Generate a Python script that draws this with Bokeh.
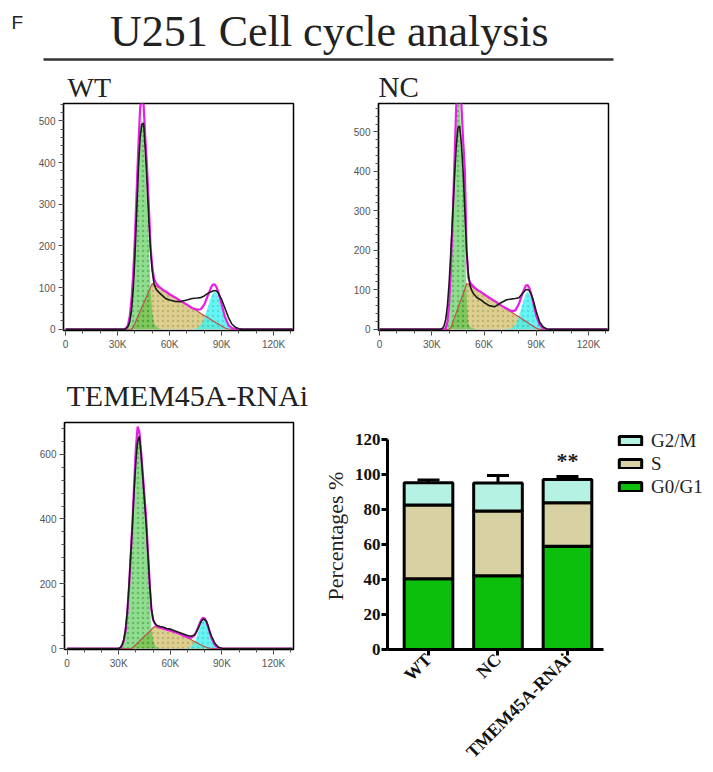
from math import pi
from bokeh.plotting import figure
from bokeh.layouts import column, row
from bokeh.models import (Range1d, FixedTicker, Legend, LegendItem,
                          ColumnDataSource, Whisker, TeeHead)
from bokeh.core.properties import value
from bokeh.embed import file_html
from bokeh.resources import INLINE

SERIF = "Liberation Serif"
SANS = "Liberation Sans"

# ---------------- histogram data (DNA content in K, counts) ----------------
hist_x_k = [0, 34, 35, 36, 37, 38, 39, 40, 41, 42, 43, 44, 45, 46, 47, 48, 49, 50, 51, 52, 53, 54,
            56, 58, 60, 63, 66, 70, 73, 76, 78, 80, 82, 84, 85, 86, 87, 88,
            90, 92, 94, 96, 98, 100, 102, 131]

wt_g1 = [0, 0, 3, 10, 30, 70, 125, 206, 306, 407, 487, 507, 478, 388, 309, 209, 100, 40, 15, 7, 4, 2,
         0, 0, 0, 0, 0, 0, 0, 0, 0, 0, 0, 0, 0, 0, 0, 0,
         0, 0, 0, 0, 0, 0, 0, 0]
wt_s = [0, 0, 0, 0, 0, 0, 5, 14, 24, 33, 43, 53, 62, 72, 81, 91, 100, 110, 107, 105, 102, 100,
        95, 90, 84, 77, 69, 59, 51, 44, 38, 33, 28, 23, 20, 18, 15, 13,
        8, 3, 0, 0, 0, 0, 0, 0]
wt_g2 = [0, 0, 0, 0, 0, 0, 0, 0, 0, 0, 0, 0, 0, 0, 0, 0, 0, 0, 0, 0, 0, 0,
         0, 0, 0, 0, 0, 0, 0, 3, 10, 26, 52, 78, 87, 90, 87, 78,
         52, 26, 10, 3, 1, 0, 0, 0]
wt_fit = [0, 0, 3, 10, 30, 70, 130, 220, 330, 440, 530, 560, 540, 460, 390, 300, 200, 150, 122, 112, 106, 102,
          95, 90, 84, 77, 69, 59, 51, 47, 48, 59, 80, 101, 107, 108, 102, 91,
          60, 29, 10, 3, 1, 0, 0, 0]
wt_data = [0, 0, 2, 6, 18, 45, 95, 175, 280, 385, 460, 492, 495, 430, 350, 265, 190, 140, 110, 98, 92, 88,
           80, 73, 70, 67, 66, 70, 74, 75, 76, 80, 86, 90, 92, 93, 92, 88,
           72, 50, 28, 12, 5, 1, 0, 0]

nc_g1 = [0, 0, 0, 0, 0, 3, 20, 65, 155, 263, 391, 519, 586, 584, 492, 390, 298, 85, 15, 6, 4, 2,
         0, 0, 0, 0, 0, 0, 0, 0, 0, 0, 0, 0, 0, 0, 0, 0,
         0, 0, 0, 0, 0, 0, 0, 0]
nc_s = [0, 0, 0, 0, 0, 0, 0, 0, 5, 17, 29, 41, 54, 66, 78, 90, 102, 115, 115, 112, 109, 106,
        100, 95, 89, 80, 72, 60, 52, 43, 37, 32, 26, 20, 17, 14, 11, 9,
        3, 0, 0, 0, 0, 0, 0, 0]
nc_g2 = [0, 0, 0, 0, 0, 0, 0, 0, 0, 0, 0, 0, 0, 0, 0, 0, 0, 0, 0, 0, 0, 0,
         0, 0, 0, 0, 0, 0, 0, 3, 11, 32, 64, 91, 95, 91, 80, 64,
         32, 11, 3, 0, 0, 0, 0, 0]
nc_fit = [0, 0, 0, 0, 0, 3, 20, 65, 160, 280, 420, 560, 640, 650, 570, 480, 400, 200, 130, 118, 113, 108,
          100, 95, 89, 80, 72, 60, 52, 46, 48, 64, 90, 111, 112, 105, 91, 73,
          35, 11, 3, 0, 0, 0, 0, 0]
nc_data = [0, 0, 0, 2, 8, 25, 60, 120, 200, 290, 380, 460, 510, 515, 470, 400, 300, 200, 140, 110, 98, 90,
           80, 75, 68, 60, 57, 68, 75, 77, 78, 80, 90, 100, 101, 98, 90, 78,
           45, 18, 6, 1, 0, 0, 0, 0]

tm_x_k = [0, 30, 31, 32, 33, 34, 35, 36, 37, 38, 39, 40, 41, 42, 43, 44, 45, 46, 47, 48, 49, 50, 51, 52,
          54, 56, 58, 60, 62, 64, 66, 68, 70, 72, 74,
          75, 76, 77, 78, 79, 80, 81, 82, 83, 84, 86, 88, 90, 92, 94, 131]
tm_g1 = [0, 0, 2, 10, 25, 55, 110, 190, 290, 388, 503, 608, 668, 648, 582, 507, 432, 357, 252, 147, 61, 24, 10, 4,
         0, 0, 0, 0, 0, 0, 0, 0, 0, 0, 0,
         0, 0, 0, 0, 0, 0, 0, 0, 0, 0, 0, 0, 0, 0, 0, 0]
tm_s = [0, 0, 0, 0, 0, 0, 0, 0, 0, 2, 7, 12, 17, 22, 28, 33, 38, 43, 48, 53, 59, 64, 68, 66,
        64, 61, 58, 55, 52, 48, 44, 39, 34, 28, 22,
        19, 16, 13, 11, 8, 6, 4, 2, 1, 0, 0, 0, 0, 0, 0, 0]
tm_g2 = [0, 0, 0, 0, 0, 0, 0, 0, 0, 0, 0, 0, 0, 0, 0, 0, 0, 0, 0, 0, 0, 0, 0, 0,
         0, 0, 0, 0, 0, 0, 0, 0, 1, 5, 18,
         31, 47, 64, 78, 87, 87, 78, 64, 47, 31, 10, 2, 0, 0, 0, 0]
tm_fit = [0, 0, 2, 10, 25, 55, 110, 190, 290, 390, 510, 620, 685, 670, 610, 540, 470, 400, 300, 200, 120, 88, 78, 70,
          64, 61, 58, 55, 52, 48, 44, 39, 35, 33, 40,
          50, 63, 77, 89, 95, 93, 82, 66, 48, 31, 10, 2, 0, 0, 0, 0]
tm_data = [0, 0, 3, 12, 28, 60, 115, 195, 290, 385, 490, 580, 640, 655, 600, 530, 455, 380, 290, 200, 125, 90, 78, 72,
           68, 66, 62, 60, 56, 52, 48, 44, 40, 38, 42,
           50, 60, 72, 84, 90, 90, 84, 70, 52, 38, 15, 4, 1, 0, 0, 0]

hist_x_ticks = [0, 30, 60, 90, 120]
hist_x_labels = ["0", "30K", "60K", "90K", "120K"]

# ---------------- bar chart data (percentages) ----------------
categories = ["WT", "NC", "TMEM45A-RNAi"]
phase_labels = ["G0/G1", "S", "G2/M"]
g0g1_pct = [40.5, 42.2, 59.1]
s_pct = [42.3, 37.1, 24.9]
g2m_pct = [12.7, 16.1, 13.4]
g0g1_err = [1.7, 1.8, 1.8]
s_err = [2.7, 3.8, 3.5]
g2m_err = [1.5, 4.2, 1.7]
sig_mark = "**"
bar_y_ticks = [0, 20, 40, 60, 80, 100, 120]

# ---------------- styles ----------------
C_G1 = "#33c233"
C_S = "#dccf90"
C_G2 = "#3ff3f3"
C_FIT = "#e81ee8"
C_DATA = "#1a1a1a"
BAR_COLORS = ["#0cbf0c", "#d8d1a3", "#b5f2e4"]


def hist_panel(name, xk, g1, s, g2, fit, data, x_lo, x_hi, y_hi, y_major, y_minor,
               left, top, fw, fh, width, height, tsize, toffset, tstandoff):
    p = figure(width=width, height=height, title=name,
               x_range=Range1d(x_lo, x_hi), y_range=Range1d(-3, y_hi),
               min_border_left=left, min_border_right=width - left - fw,
               min_border_top=top, min_border_bottom=height - top - fh,
               output_backend="svg", toolbar_location=None)
    p.grid.visible = False
    p.outline_line_color = "black"
    p.outline_line_width = 1.5
    p.background_fill_color = "white"
    p.title.text_font = SERIF
    p.title.text_font_size = tsize
    p.title.text_font_style = "normal"
    p.title.text_color = "#222222"
    p.title.align = "left"
    p.title.offset = toffset
    p.title.standoff = tstandoff

    p.varea(x=xk, y1=0, y2=s, fill_color=C_S, fill_alpha=1.0,
            hatch_pattern="dot", hatch_color="#9c8c44", hatch_alpha=0.45, hatch_scale=5)
    p.varea(x=xk, y1=0, y2=g1, fill_color=C_G1, fill_alpha=0.55,
            hatch_pattern="dot", hatch_color="#1d6e1d", hatch_alpha=0.35, hatch_scale=5)
    p.varea(x=xk, y1=0, y2=g2, fill_color=C_G2, fill_alpha=0.8,
            hatch_pattern="dot", hatch_color="#2a9a9a", hatch_alpha=0.3, hatch_scale=5)
    p.line(xk, s, line_color="#c0504d", line_width=1.2)
    p.line(xk, fit, line_color=C_FIT, line_width=2.2)
    p.line(xk, data, line_color=C_DATA, line_width=1.6)

    p.xaxis.ticker = FixedTicker(ticks=hist_x_ticks, minor_ticks=list(range(0, 140, 10)))
    p.xaxis.major_label_overrides = dict(zip(hist_x_ticks, hist_x_labels))
    p.yaxis.ticker = FixedTicker(ticks=y_major, minor_ticks=y_minor)
    for ax in (p.xaxis[0], p.yaxis[0]):
        ax.axis_line_color = "black"
        ax.axis_line_width = 1.2
        ax.major_tick_line_color = "#444444"
        ax.minor_tick_line_color = "#555555"
        ax.major_tick_out = 5
        ax.major_tick_in = 0
        ax.minor_tick_out = 3
        ax.minor_tick_in = 0
        ax.major_label_text_font = SANS
        ax.major_label_text_font_size = "10px"
        ax.major_label_text_color = "#555555"
        ax.major_label_standoff = 3
    return p


# ---------------- header (canvas units = pixels, y downwards) ----------------
HEAD_W, HEAD_H = 712, 68
head = figure(width=HEAD_W, height=HEAD_H, x_range=Range1d(0, HEAD_W), y_range=Range1d(HEAD_H, 0),
              x_axis_location=None, y_axis_location=None, title=None,
              min_border=0, output_backend="svg", toolbar_location=None)
head.grid.visible = False
head.outline_line_color = None
head.text(x=[11], y=[22], text=["F"], text_font=value(SANS), text_font_size="19px",
          text_color="#222222", text_baseline="alphabetic", text_align="left")
head.text(x=[109.5], y=[31], text=["U251 Cell cycle analysis"], text_font=value(SERIF),
          text_font_size="44px", text_color="#222222", text_baseline="alphabetic", text_align="left")
head.line([43, 613], [59, 59], line_color="#333333", line_width=2.5)

# ---------------- histograms ----------------
wt = hist_panel("WT", hist_x_k, wt_g1, wt_s, wt_g2, wt_fit, wt_data,
                -1.2, 131.5, 542, [0, 100, 200, 300, 400, 500], list(range(0, 560, 20)),
                63, 35, 230, 230, 340, 297, "28px", 4, 2)
nc = hist_panel("NC", hist_x_k, nc_g1, nc_s, nc_g2, nc_fit, nc_data,
                -0.6, 131.5, 572, [0, 100, 200, 300, 400, 500], list(range(0, 580, 20)),
                38, 33, 230, 229, 372, 297, "29px", 0, 1)
tm = hist_panel("TEMEM45A-RNAi", tm_x_k, tm_g1, tm_s, tm_g2, tm_fit, tm_data,
                -1.5, 131.6, 698, [0, 200, 400, 600], list(range(0, 720, 40)),
                64, 57, 229, 229, 310, 406, "30px", 2, 21)

# ---------------- stacked bar chart ----------------
x_pos = list(range(1, len(categories) + 1))
src = ColumnDataSource(dict(x=x_pos, g0g1=g0g1_pct, s=s_pct, g2m=g2m_pct))

bar = figure(width=402, height=406, x_range=Range1d(0.41, 4.986), y_range=Range1d(0, 130),
             min_border_left=77, min_border_right=7, min_border_top=42, min_border_bottom=115,
             output_backend="svg", toolbar_location=None, title=None)
bar.grid.visible = False
bar.outline_line_color = None

bars = bar.vbar_stack(["g0g1", "s", "g2m"], x="x", width=0.7, color=BAR_COLORS,
                      line_color="black", line_width=3, source=src)

wx, wlo, whi = [], [], []
cum = [0.0] * len(categories)
for vals, errs in ((g0g1_pct, g0g1_err), (s_pct, s_err), (g2m_pct, g2m_err)):
    for i in range(len(categories)):
        cum[i] += vals[i]
        wx.append(x_pos[i])
        wlo.append(cum[i])
        whi.append(cum[i] + errs[i])
wsrc = ColumnDataSource(dict(base=wx, lower=wlo, upper=whi))
bar.add_layout(Whisker(source=wsrc, base="base", lower="lower", upper="upper",
                       line_color="black", line_width=3, lower_head=None,
                       upper_head=TeeHead(size=22, line_width=3, line_color="black")))

bar.text(x=[x_pos[2]], y=[108], text=[sig_mark], text_font=value(SERIF), text_font_size="22px",
         text_font_style="bold", text_align="center", text_baseline="alphabetic", text_color="#222222")

bar.yaxis.ticker = FixedTicker(ticks=bar_y_ticks)
bar.yaxis.bounds = (0, 120)
bar.yaxis.axis_label = "Percentages %"
bar.yaxis.axis_label_text_font = SERIF
bar.yaxis.axis_label_text_font_size = "22px"
bar.yaxis.axis_label_text_font_style = "normal"
bar.yaxis.axis_label_text_color = "#222222"
bar.yaxis.axis_label_standoff = 4
bar.xaxis.ticker = FixedTicker(ticks=x_pos)
bar.xaxis.major_label_overrides = dict(zip(x_pos, categories))
bar.xaxis.bounds = (0.41, 3.52)
bar.xaxis.major_label_orientation = pi / 4
for ax in (bar.xaxis[0], bar.yaxis[0]):
    ax.axis_line_width = 3
    ax.axis_line_color = "black"
    ax.major_tick_line_width = 3
    ax.major_tick_out = 6
    ax.major_tick_in = 0
    ax.minor_tick_line_color = None
    ax.major_label_text_font = SERIF
    ax.major_label_text_font_style = "bold"
    ax.major_label_text_color = "#111111"
bar.yaxis.major_label_text_font_size = "17px"
bar.yaxis.major_label_standoff = 1
bar.xaxis.major_label_text_font_size = "18px"
bar.xaxis.major_label_standoff = 1

legend = Legend(items=[LegendItem(label=phase_labels[i], renderers=[bars[i]])
                       for i in reversed(range(len(phase_labels)))],
                location=(229, 151), glyph_width=28, glyph_height=11, label_height=23,
                spacing=0, padding=0, margin=0, label_standoff=7,
                label_text_font=SERIF, label_text_font_size="19px", label_text_color="#222222",
                border_line_alpha=0, background_fill_alpha=0)
bar.add_layout(legend)

page = column(head, row(wt, nc), row(tm, bar))
open("out.html", "w").write(file_html(page, INLINE, title="U251 Cell cycle analysis"))
